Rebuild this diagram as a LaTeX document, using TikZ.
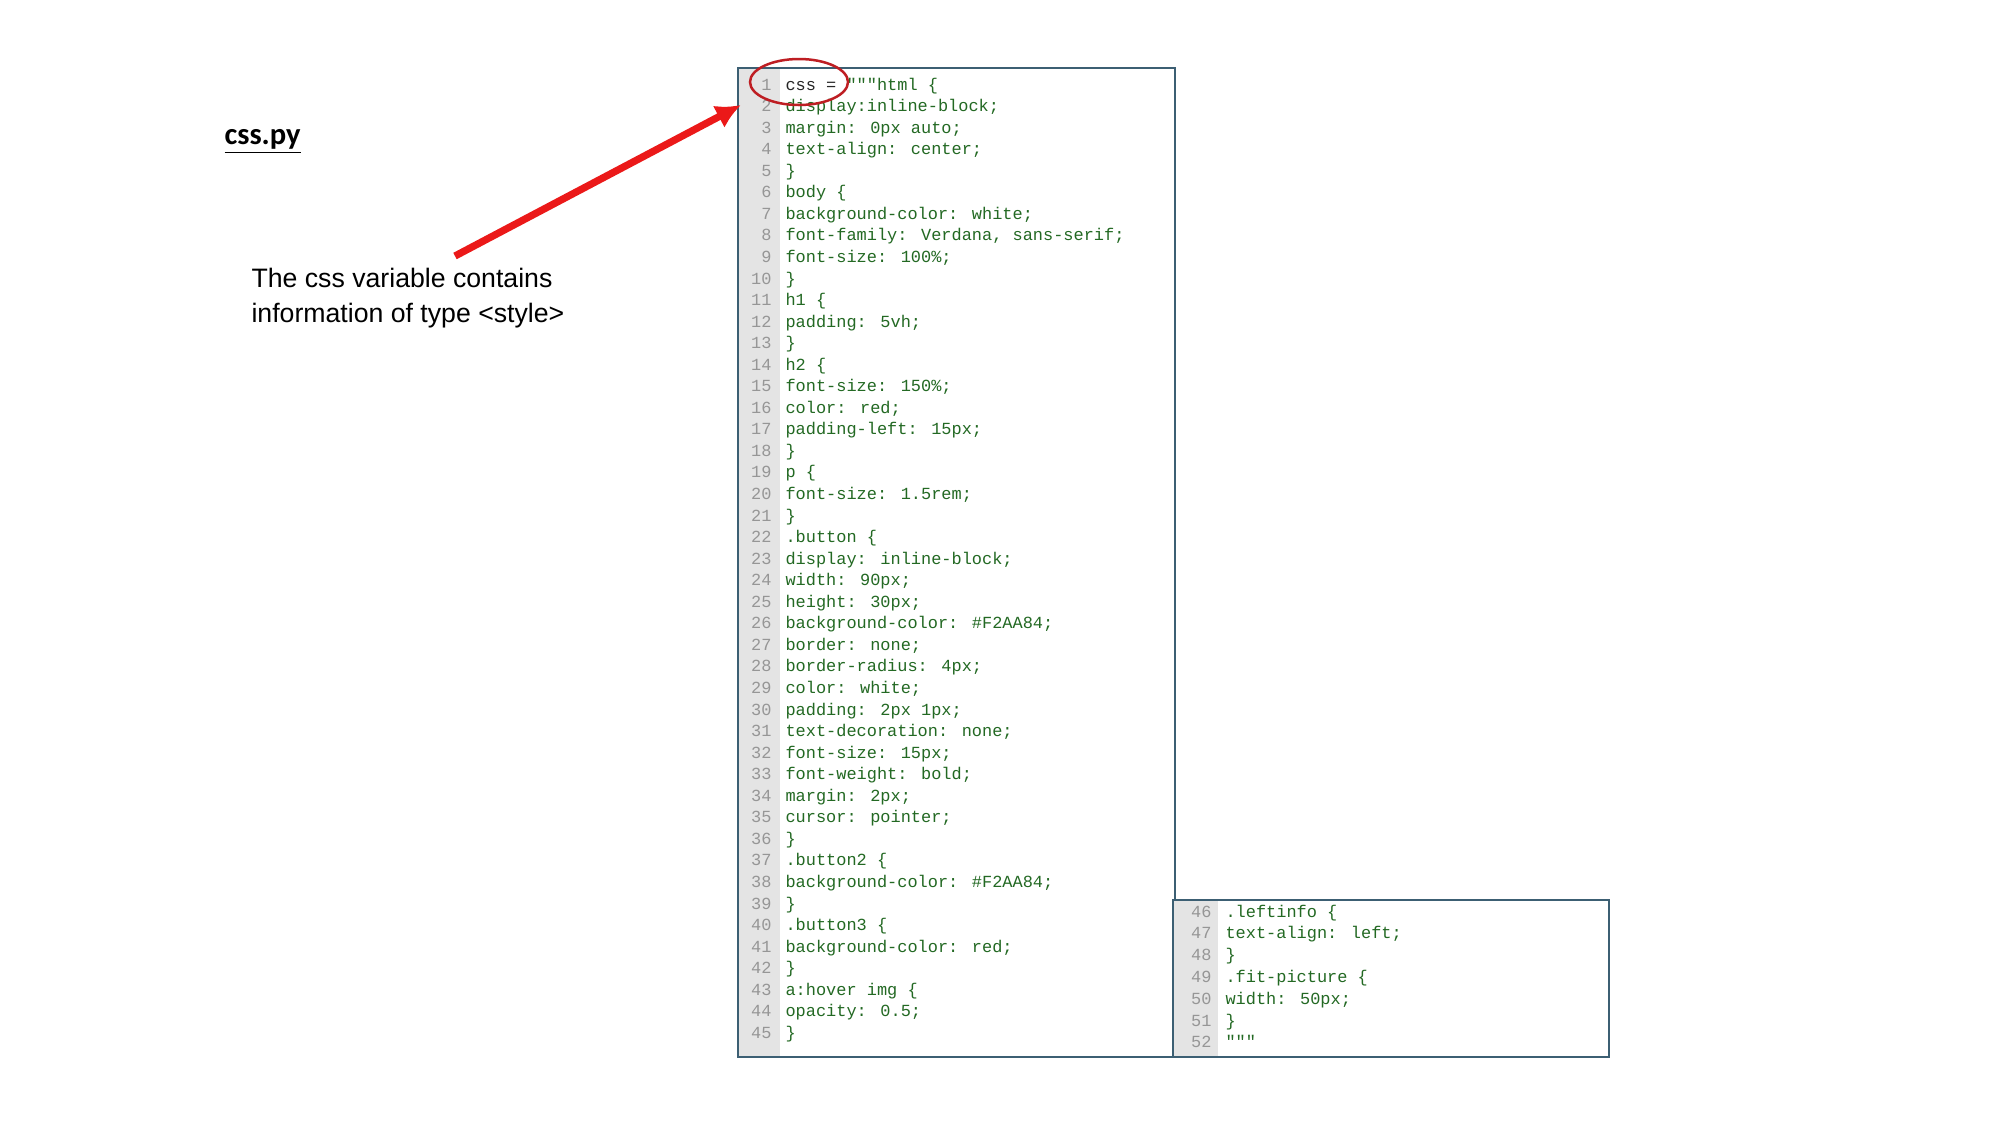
\documentclass[tikz,border=0pt]{standalone}
\usepackage{fontspec}
\usetikzlibrary{arrows.meta}
\setmainfont{Liberation Sans}
\newfontfamily\codefont{Liberation Mono}
\newfontfamily\titlefont{Carlito}
\definecolor{codegreen}{RGB}{35,105,35}
\definecolor{numgray}{RGB}{150,150,150}
\definecolor{gutter}{RGB}{228,228,228}
\definecolor{boxline}{RGB}{60,95,115}
\definecolor{arrowred}{RGB}{235,25,25}
\definecolor{ellred}{RGB}{190,30,35}
\tikzset{
  num/.style={anchor=base east,font=\codefont\fontsize{6.1}{7}\selectfont,text=numgray,inner sep=0},
  code/.style={anchor=base west,font=\codefont\fontsize{6.1}{7}\selectfont,text=codegreen,inner sep=0},
}
\newcommand{\Lc}[3]{% line number, y, text (left box)
  \node[num] (n#1) at (772,#2) {#1};
  \node[code] (c#1) at (785,#2) {#3};}
\newcommand{\Rc}[3]{%
  \node[num] (n#1) at (1212,#2) {#1};
  \node[code] (c#1) at (1225,#2) {#3};}
\begin{document}
\begin{tikzpicture}[x=0.36pt,y=-0.36pt]
\useasboundingbox (0,0) rectangle (2000,1125);
\fill[white] (0,0) rectangle (2000,1125);
% boxes
\fill[gutter] (738,68) rectangle (780,1057);
\draw[boxline,line width=0.6pt] (738,68) rectangle (1175,1057);
\fill[white] (1173,900) rectangle (1609,1057);
\fill[gutter] (1173,900) rectangle (1218,1057);
\draw[boxline,line width=0.6pt] (1173,900) rectangle (1609,1057);
% left code
\node[num] (n1) at (772,90) {1};
\node[code,text=black!85] (c1) at (785,90) {css = \textcolor{codegreen}{"""html \{}};
\Lc{2}{111.5}{ display:inline-block;}
\Lc{3}{133}{ margin: 0px auto;}
\Lc{4}{154.6}{ text-align: center;}
\Lc{5}{176.2}{ \}}
\Lc{6}{197.7}{body \{}
\Lc{7}{219.3}{ background-color: white;}
\Lc{8}{240.8}{ font-family: Verdana, sans-serif;}
\Lc{9}{262.4}{ font-size: 100\%;}
\Lc{10}{284}{ \}}
\Lc{11}{305.5}{h1 \{}
\Lc{12}{327}{padding: 5vh;}
\Lc{13}{348.6}{\}}
\Lc{14}{370.2}{h2 \{}
\Lc{15}{391.7}{ font-size: 150\%;}
\Lc{16}{413.3}{ color: red;}
\Lc{17}{434.8}{ padding-left: 15px;}
\Lc{18}{456.4}{ \}}
\Lc{19}{477.9}{p \{}
\Lc{20}{499.5}{ font-size: 1.5rem;}
\Lc{21}{521}{ \}}
\Lc{22}{542.6}{.button \{}
\Lc{23}{564.2}{ display: inline-block;}
\Lc{24}{585.7}{ width: 90px;}
\Lc{25}{607.3}{ height: 30px;}
\Lc{26}{628.8}{ background-color: \#F2AA84;}
\Lc{27}{650.4}{ border: none;}
\Lc{28}{671.9}{ border-radius: 4px;}
\Lc{29}{693.5}{ color: white;}
\Lc{30}{715}{ padding: 2px 1px;}
\Lc{31}{736.6}{ text-decoration: none;}
\Lc{32}{758.2}{ font-size: 15px;}
\Lc{33}{779.7}{ font-weight: bold;}
\Lc{34}{801.3}{ margin: 2px;}
\Lc{35}{822.8}{ cursor: pointer;}
\Lc{36}{844.4}{ \}}
\Lc{37}{865.9}{.button2 \{}
\Lc{38}{887.5}{ background-color: \#F2AA84;}
\Lc{39}{909}{ \}}
\Lc{40}{930.6}{.button3 \{}
\Lc{41}{952.2}{ background-color: red;}
\Lc{42}{973.7}{ \}}
\Lc{43}{995.3}{a:hover img \{}
\Lc{44}{1016.8}{  opacity: 0.5;}
\Lc{45}{1038.4}{\}}
% right code
\Rc{46}{917}{.leftinfo \{}
\Rc{47}{938.8}{  text-align: left;}
\Rc{48}{960.6}{\}}
\Rc{49}{982.4}{.fit-picture \{}
\Rc{50}{1004.2}{  width: 50px;}
\Rc{51}{1026}{\}}
\Rc{52}{1047.8}{"""}
% title and annotation
\node[anchor=base west,inner sep=0,font=\titlefont\bfseries\fontsize{11}{13}\selectfont] (title) at (224,144) {\underline{css.py}};
\node[anchor=north west,align=left,inner sep=0,font=\fontsize{9.6}{12.6}\selectfont] (note) at (251,268) {The css variable contains\\information of type <style>};
\coordinate (tail) at (455,256);
\coordinate (head) at (741,105);
\draw[arrowred,line width=2.6pt,-{Latex[length=9pt,width=9pt]}] (tail) -- (head);
\draw[ellred,line width=0.9pt] (799,82) ellipse [x radius=49,y radius=23];
\end{tikzpicture}
\end{document}
